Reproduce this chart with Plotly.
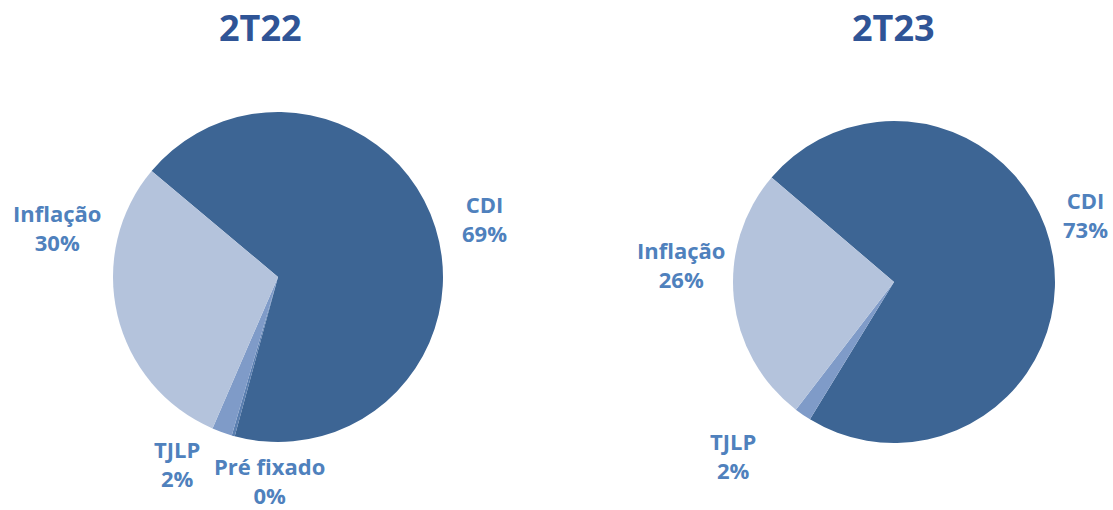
import plotly.graph_objects as go

# Data
categories = ["CDI", "Pré fixado", "TJLP", "Inflação"]
values_2t22 = [69, 0.3, 2, 30]
pct_2t22 = ["69%", "0%", "2%", "30%"]
values_2t23 = [73, 0, 1.7, 26]
pct_2t23 = ["73%", "0%", "2%", "26%"]
titles = ["2T22", "2T23"]

colors = ["#3D6594", "#5B7FB0", "#7F9BC8", "#B4C3DC"]
label_color = "#4F81BD"
title_color = "#2F5496"
W, H = 1113, 510

fig = go.Figure()
fig.add_trace(go.Pie(
    labels=categories, values=values_2t22, sort=False, direction="clockwise",
    rotation=310, textinfo="none", hoverinfo="label+percent",
    marker=dict(colors=colors, line=dict(width=0)),
    domain=dict(x=[113 / W, 443 / W], y=[1 - 442 / H, 1 - 112 / H]),
    showlegend=False,
))
fig.add_trace(go.Pie(
    labels=categories, values=values_2t23, sort=False, direction="clockwise",
    rotation=310.5, textinfo="none", hoverinfo="label+percent",
    marker=dict(colors=colors, line=dict(width=0)),
    domain=dict(x=[733 / W, 1055 / W], y=[1 - 444 / H, 1 - 120 / H]),
    showlegend=False,
))

font_lbl = dict(family="Open Sans", size=22, color=label_color)

def lbl(text, x, y):
    fig.add_annotation(text=text, x=x / W, y=1 - y / H, xref="paper", yref="paper",
                       showarrow=False, font=font_lbl, align="center",
                       xanchor="center", yanchor="middle")

# left pie labels
lbl(f"<b>{categories[3]}<br>{pct_2t22[3]}</b>", 57, 227)
lbl(f"<b>{categories[0]}<br>{pct_2t22[0]}</b>", 484, 218)
lbl(f"<b>{categories[2]}<br>{pct_2t22[2]}</b>", 177, 463)
lbl(f"<b>{categories[1]}<br>{pct_2t22[1]}</b>", 269, 480)
# right pie labels
lbl(f"<b>{categories[3]}<br>{pct_2t23[3]}</b>", 681, 264)
lbl(f"<b>{categories[0]}<br>{pct_2t23[0]}</b>", 1085, 214)
lbl(f"<b>{categories[2]}<br>{pct_2t23[2]}</b>", 733, 455)

for t, x in zip(titles, [260, 893]):
    fig.add_annotation(text=f"<b>{t}</b>", x=x / W, y=1 - 27 / H, xref="paper", yref="paper",
                       showarrow=False, xanchor="center", yanchor="middle",
                       font=dict(family="Open Sans", size=36, color=title_color))

fig.update_layout(width=W, height=H, margin=dict(l=0, r=0, t=0, b=0),
                  paper_bgcolor="white", plot_bgcolor="white")
fig.write_html("out.html", config={"displayModeBar": False},
               post_script="document.body.style.margin='0';document.body.style.overflow='hidden';")
